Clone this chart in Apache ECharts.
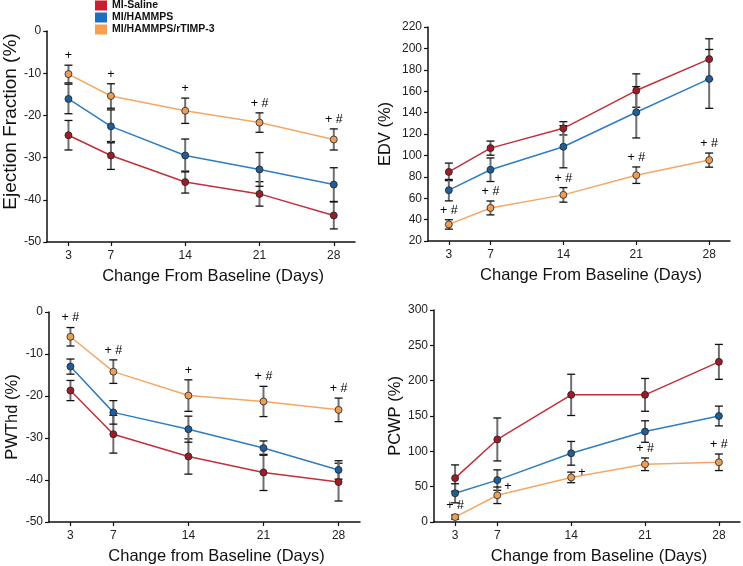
<!DOCTYPE html>
<html><head><meta charset="utf-8">
<script src="https://cdn.jsdelivr.net/npm/echarts@6/dist/echarts.min.js"></script>
<style>html,body{margin:0;padding:0;background:#fff}#c{width:743px;height:566px}</style>
</head><body><div id="c"></div>
<script>
// ---- data ----
const days = [3, 7, 14, 21, 28];
const seriesNames = ['MI-Saline', 'MI/HAMMPS', 'MI/HAMMPS/rTIMP-3'];

const efSaline = [-24.7, -29.5, -35.8, -38.6, -43.7];
const efSalineErr = [3.5, 3.3, 2.6, 2.9, 3.2];
const efHammps = [-16.1, -22.6, -29.5, -32.8, -36.4];
const efHammpsErr = [3.5, 3.9, 3.9, 4.0, 4.0];
const efTimp = [-10.2, -15.4, -18.9, -21.7, -25.7];
const efTimpErr = [2.1, 2.9, 3.0, 2.3, 2.5];
const efNotes = ['+', '+', '+', '+ #', '+ #'];
const efNotePos = ['top', 'top', 'top', 'top', 'top'];

const edvSaline = [84.6, 106.8, 125.3, 160.6, 190.0];
const edvSalineErr = [8.2, 6.6, 6.2, 15.6, 19.0];
const edvHammps = [67.5, 86.6, 108.1, 140.3, 171.5];
const edvHammpsErr = [10.0, 11.0, 19.7, 24.0, 27.5];
const edvTimp = [35.5, 50.9, 63.1, 81.5, 95.6];
const edvTimpErr = [4.4, 6.5, 6.8, 7.7, 6.6];
const edvNotes = ['+ #', '+ #', '+ #', '+ #', '+ #'];
const edvNotePos = ['top', 'top', 'top', 'top', 'top'];

const pwSaline = [-18.7, -29.1, -34.4, -38.2, -40.5];
const pwSalineErr = [2.4, 4.5, 4.2, 4.3, 4.5];
const pwHammps = [-13.0, -23.9, -27.9, -32.4, -37.6];
const pwHammpsErr = [1.8, 2.8, 3.1, 1.7, 2.2];
const pwTimp = [-5.9, -14.2, -19.9, -21.3, -23.3];
const pwTimpErr = [2.2, 2.8, 3.75, 3.6, 2.8];
const pwNotes = ['+ #', '+ #', '+', '+ #', '+ #'];
const pwNotePos = ['top', 'top', 'top', 'top', 'top'];

const pcSaline = [62.1, 116.8, 179.9, 179.9, 226.6];
const pcSalineErr = [18.7, 30.4, 29.2, 23.2, 24.7];
const pcHammps = [40.6, 59.3, 97.2, 128.0, 150.0];
const pcHammpsErr = [13.5, 14.5, 16.8, 15.2, 14.0];
const pcTimp = [7.0, 37.8, 63.1, 81.7, 84.5];
const pcTimpErr = [3.0, 11.7, 7.5, 8.9, 11.7];
const pcNotes = ['+ #', '+', '+', '+ #', '+ #'];
const pcNotePos = ['top', 'right', 'right', 'top', 'top'];

// ---- styling ----
const lineColors = ['#c0303c', '#2f7dc0', '#f3a866'];
const markerColors = ['#9c1c2a', '#1f5e98', '#eb9e58'];
const legendColors = ['#c8202f', '#1f6fbf', '#f5a050'];
const FONT = 'Liberation Sans, Arial, sans-serif';

const panels = [
  {grid: {left: 44, top: 31, width: 311, height: 211}, yMin: -50, yMax: 0, yInt: 10,
   yName: 'Ejection Fraction (%)', yNameSize: 19, yGap: 23, yPad: [0, 0, 0, 30],
   xName: 'Change From Baseline (Days)',
   s: [[efSaline, efSalineErr], [efHammps, efHammpsErr], [efTimp, efTimpErr]], notes: efNotes, notePos: efNotePos},
  {grid: {left: 428, top: 27, width: 302, height: 214}, yMin: 20, yMax: 220, yInt: 20,
   yName: 'EDV (%)', yNameSize: 16.5, yGap: 34, yPad: [0, 0, 0, 0],
   xName: 'Change From Baseline (Days)',
   s: [[edvSaline, edvSalineErr], [edvHammps, edvHammpsErr], [edvTimp, edvTimpErr]], notes: edvNotes, notePos: edvNotePos},
  {grid: {left: 49, top: 312, width: 311, height: 211}, yMin: -50, yMax: 0, yInt: 10,
   yName: 'PWThd (%)', yNameSize: 16.5, yGap: 28, yPad: [0, 0, 0, 0],
   xName: 'Change from Baseline (Days)',
   s: [[pwSaline, pwSalineErr], [pwHammps, pwHammpsErr], [pwTimp, pwTimpErr]], notes: pwNotes, notePos: pwNotePos},
  {grid: {left: 434, top: 310, width: 306, height: 214}, yMin: 0, yMax: 300, yInt: 50,
   yName: 'PCWP (%)', yNameSize: 16.5, yGap: 30, yPad: [0, 0, 0, 0],
   xName: 'Change from Baseline (Days)',
   s: [[pcSaline, pcSalineErr], [pcHammps, pcHammpsErr], [pcTimp, pcTimpErr]], notes: pcNotes, notePos: pcNotePos}
];

const grids = [], xAxes = [], yAxes = [], series = [];

function errRender(params, api) {
  const x = api.value(0), lo = api.value(1), hi = api.value(2);
  const a = api.coord([x, lo]), b = api.coord([x, hi]);
  const w = 4;
  return {type: 'group', children: [
    {type: 'line', shape: {x1: a[0], y1: a[1], x2: b[0], y2: b[1]}, style: {stroke: '#6f6f6f', lineWidth: 2}},
    {type: 'line', shape: {x1: a[0] - w, y1: a[1], x2: a[0] + w, y2: a[1]}, style: {stroke: '#111', lineWidth: 1.3}},
    {type: 'line', shape: {x1: b[0] - w, y1: b[1], x2: b[0] + w, y2: b[1]}, style: {stroke: '#111', lineWidth: 1.3}}
  ]};
}

panels.forEach((p, i) => {
  grids.push(Object.assign({containLabel: false}, p.grid));
  xAxes.push({
    type: 'value', gridIndex: i, min: 1, max: 30,
    name: p.xName, nameLocation: 'middle', nameGap: 26,
    nameTextStyle: {fontFamily: FONT, fontSize: 16.5, color: '#111', padding: [0, 0, 0, 24]},
    axisLine: {show: true, onZero: false, lineStyle: {color: '#111', width: 1.5}},
    axisTick: {show: true, customValues: days, length: 4, lineStyle: {color: '#111', width: 1.2}},
    axisLabel: {customValues: days, margin: 8, fontFamily: FONT, fontSize: 12, color: '#222'},
    splitLine: {show: false}
  });
  yAxes.push({
    type: 'value', gridIndex: i, min: p.yMin, max: p.yMax, interval: p.yInt,
    name: p.yName, nameLocation: 'middle', nameGap: p.yGap, nameRotate: 90,
    nameTextStyle: {fontFamily: FONT, fontSize: p.yNameSize, color: '#111', padding: p.yPad},
    axisLine: {show: true, onZero: false, lineStyle: {color: '#111', width: 1.5}},
    axisTick: {show: true, length: 4, lineStyle: {color: '#111', width: 1.2}},
    axisLabel: {margin: 6, fontFamily: FONT, fontSize: 12, color: '#222'},
    splitLine: {show: false}
  });
  p.s.forEach(([vals, errs], k) => {
    series.push({
      type: 'custom', name: 'err' + i + '_' + k, xAxisIndex: i, yAxisIndex: i, z: 1,
      renderItem: errRender, encode: {x: 0, y: [1, 2]},
      data: days.map((d, j) => [d, vals[j] - errs[j], vals[j] + errs[j]]),
      silent: true
    });
  });
  p.s.forEach(([vals], k) => {
    series.push({
      type: 'line', name: seriesNames[k], xAxisIndex: i, yAxisIndex: i, z: 3,
      data: days.map((d, j) => [d, vals[j]]),
      symbol: 'circle', symbolSize: 7,
      itemStyle: {color: markerColors[k], borderColor: '#222', borderWidth: 0.8},
      lineStyle: {color: lineColors[k], width: 1.5},
      silent: true
    });
  });
  const [tv, te] = p.s[2];
  series.push({
    type: 'scatter', name: 'notes' + i, xAxisIndex: i, yAxisIndex: i, z: 4,
    symbolSize: 0, itemStyle: {color: 'transparent'}, silent: true,
    data: days.map((d, j) => ({
      value: [d, tv[j] + te[j]],
      label: {show: true, formatter: p.notes[j], position: p.notePos[j],
              distance: p.notePos[j] === 'right' ? 7 : 3,
              fontFamily: FONT, fontSize: 12.5, color: '#000', opacity: 1}
    }))
  });
});

const chart = echarts.init(document.getElementById('c'), null, {renderer: 'canvas'});
chart.setOption({
  animation: false,
  backgroundColor: '#fff',
  grid: grids, xAxis: xAxes, yAxis: yAxes, series: series,
  legend: {
    data: seriesNames.map((n, k) => ({name: n, itemStyle: {color: legendColors[k], borderWidth: 0}})),
    orient: 'vertical', left: 95, top: 0, icon: 'rect',
    itemWidth: 12, itemHeight: 10, itemGap: 1, padding: 0,
    textStyle: {fontFamily: FONT, fontSize: 10.5, lineHeight: 11, fontWeight: 'bold', color: '#111'},
    selectedMode: false
  }
});
</script></body></html>
